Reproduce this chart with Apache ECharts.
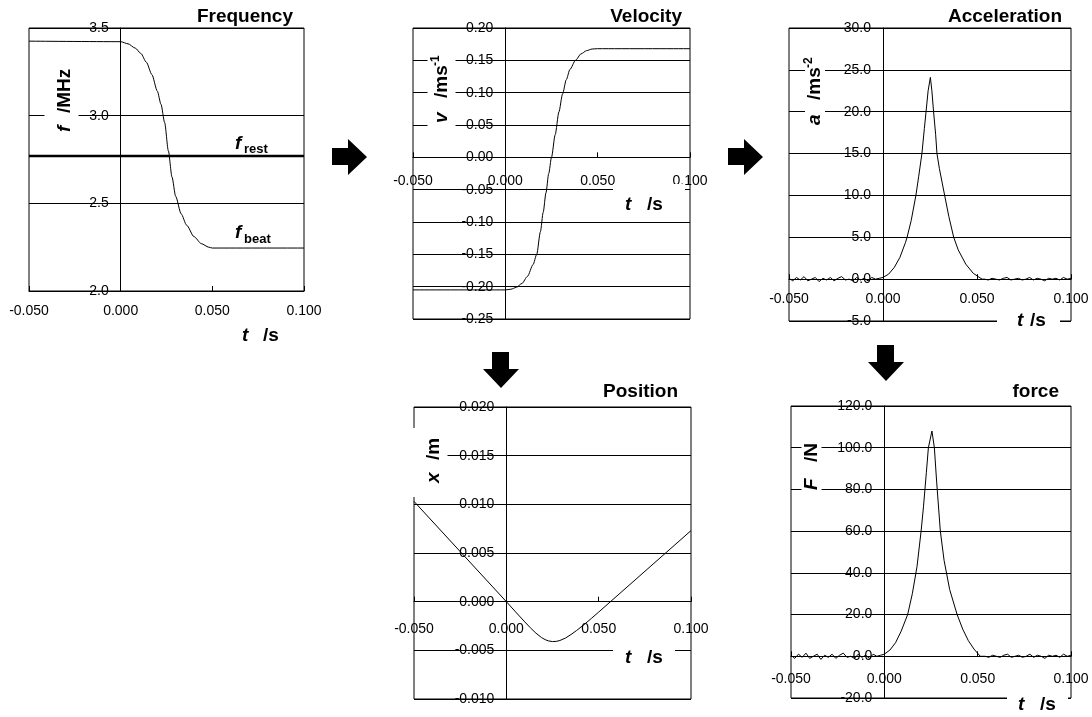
<!DOCTYPE html>
<html>
<head>
<meta charset="utf-8">
<script src="https://cdn.jsdelivr.net/npm/echarts@6/dist/echarts.min.js"></script>
<style>
  html, body { margin: 0; padding: 0; background: #fff; }
  #chart { width: 1092px; height: 717px; }
</style>
</head>
<body>
<div id="chart"></div>
<script>
// frequency vs time
var freqT = [-0.05, 0, 0.004, 0.008, 0.011, 0.014, 0.017, 0.020, 0.022, 0.024, 0.026, 0.028, 0.030, 0.033, 0.036, 0.040, 0.044, 0.048, 0.050, 0.100];
var freqF = [3.425, 3.422, 3.41, 3.385, 3.355, 3.305, 3.235, 3.14, 3.065, 2.96, 2.80, 2.65, 2.54, 2.44, 2.375, 2.31, 2.27, 2.25, 2.245, 2.245];
var restT = [-0.05, 0.1];
var restF = [2.77, 2.77];

// velocity
var velT = [-0.05, 0, 0.003, 0.006, 0.009, 0.012, 0.015, 0.017, 0.019, 0.0205, 0.022, 0.0235, 0.025, 0.027, 0.029, 0.031, 0.033, 0.035, 0.038, 0.041, 0.044, 0.047, 0.050, 0.100];
var velV = [-0.205, -0.205, -0.204, -0.201, -0.195, -0.184, -0.166, -0.150, -0.115, -0.085, -0.055, -0.025, 0.0, 0.035, 0.070, 0.098, 0.120, 0.136, 0.150, 0.160, 0.165, 0.1675, 0.168, 0.168];

// acceleration (noisy baseline before and after the pulse)
var quietBeforeT = [-0.050, -0.048, -0.046, -0.044, -0.042, -0.040, -0.038, -0.036, -0.034, -0.032, -0.030, -0.028, -0.026, -0.024, -0.022, -0.020, -0.018, -0.016, -0.014, -0.012, -0.010, -0.008, -0.006, -0.004, -0.002];
var quietAfterT = [0.054, 0.056, 0.058, 0.060, 0.062, 0.064, 0.066, 0.068, 0.070, 0.072, 0.074, 0.076, 0.078, 0.080, 0.082, 0.084, 0.086, 0.088, 0.090, 0.092, 0.094, 0.096, 0.098, 0.100];
var accBefore = [0.1, -0.2, 0.2, -0.1, 0.3, -0.2, 0.0, 0.2, -0.3, 0.1, -0.1, 0.2, -0.2, 0.1, 0.3, -0.1, 0.0, -0.2, 0.2, -0.1, 0.1, -0.2, 0.2, 0.0, 0.1];
var accPulseT = [0, 0.003, 0.006, 0.009, 0.012, 0.0128, 0.015, 0.0175, 0.019, 0.0207, 0.022, 0.0229, 0.024, 0.0252, 0.026, 0.0269, 0.028, 0.0287, 0.030, 0.0328, 0.035, 0.0376, 0.040, 0.044, 0.048, 0.0527];
var accPulse = [0.2, 0.6, 1.4, 2.6, 4.4, 5.0, 7.0, 10.0, 12.3, 15.0, 18.0, 20.0, 22.5, 24.1, 22.5, 20.0, 17.3, 15.0, 13.2, 10.0, 7.5, 5.0, 3.5, 1.8, 0.7, 0.0];
var accAfter = [0.0, -0.1, 0.1, 0.0, -0.1, 0.1, 0.2, -0.1, 0.0, 0.1, -0.1, 0.0, 0.2, -0.1, 0.1, 0.0, -0.2, 0.1, 0.0, 0.1, -0.1, 0.2, 0.0, 0.1];

// position
var posT = [-0.05, 0, 0.005, 0.010, 0.013, 0.016, 0.019, 0.021, 0.023, 0.025, 0.027, 0.029, 0.032, 0.035, 0.038, 0.042, 0.046, 0.050, 0.100];
var posX = [0.0103, 0, -0.00105, -0.00208, -0.00268, -0.00323, -0.00368, -0.00390, -0.00404, -0.00410, -0.00408, -0.00399, -0.00374, -0.00338, -0.00297, -0.00237, -0.00173, -0.00107, 0.0073];

// force
var forceBefore = [0.5, -1.0, 1.0, -0.5, 1.5, -1.0, 0.0, 1.0, -1.5, 0.5, -0.5, 1.0, -1.0, 0.5, 1.5, -0.5, 0.0, -1.0, 1.0, -0.5, 0.5, -1.0, 1.0, 0.0, 0.5];
var forcePulseT = [0, 0.003, 0.006, 0.009, 0.0125, 0.015, 0.0175, 0.0197, 0.021, 0.0225, 0.0236, 0.0255, 0.0268, 0.028, 0.030, 0.032, 0.035, 0.039, 0.042, 0.045, 0.048, 0.0514];
var forcePulse = [1, 3, 6.5, 12, 20, 30, 43, 60, 72, 88, 100, 108, 100, 84, 60, 46, 32, 20, 13, 7.5, 3.5, 0];
var forceAfter = [0.0, -0.5, 0.5, 0.0, -0.5, 0.5, 1.0, -0.5, 0.0, 0.5, -0.5, 0.0, 1.0, -0.5, 0.5, 0.0, -1.0, 0.5, 0.0, 0.5, -0.5, 1.0, 0.0, 0.5];

var FONT = 'Liberation Sans, Arial, sans-serif';
var T_MIN = -0.05, T_MAX = 0.1;
var chart = echarts.init(document.getElementById('chart'));

function pairs(xs, ys) {
    return xs.map(function (x, i) { return [x, ys[i]]; });
}

// one entry per small plot: grid box, y range and label settings
var panels = [
    { left: 29, top: 28, width: 275, height: 263, min: 2, max: 3.5, step: 0.5, dec: 1, xGap: 13 },
    { left: 413, top: 28, width: 277, height: 291, min: -0.25, max: 0.2, step: 0.05, dec: 2, xGap: 17 },
    { left: 789, top: 28, width: 282, height: 293, min: -5, max: 30, step: 5, dec: 1, xGap: 13 },
    { left: 414, top: 407, width: 277, height: 292, min: -0.01, max: 0.02, step: 0.005, dec: 3, xGap: 20 },
    { left: 791, top: 406, width: 280, height: 292, min: -20, max: 120, step: 20, dec: 1, xGap: 16 }
];

var grids = panels.map(function (p) {
    return { left: p.left, top: p.top, width: p.width, height: p.height, show: true,
        borderColor: '#000', borderWidth: 1, backgroundColor: '#fff' };
});

// axes cross at zero (Excel style): shift whole axis (line + labels) inward
var xAxes = panels.map(function (p, i) {
    var off = (p.min < 0 && p.max > 0) ? -p.height * (0 - p.min) / (p.max - p.min) : 0;
    return {
        gridIndex: i, type: 'value', min: T_MIN, max: T_MAX, interval: 0.05,
        position: 'bottom', offset: off,
        axisLine: { onZero: false, lineStyle: { color: '#000', width: 1 } },
        axisTick: { show: true, inside: true, length: 5, lineStyle: { color: '#000' } },
        axisLabel: { margin: p.xGap, color: '#000', fontSize: 14, fontFamily: FONT,
            showMinLabel: true, showMaxLabel: true,
            formatter: function (v) { return v.toFixed(3); } },
        splitLine: { show: false }
    };
});

var yAxes = panels.map(function (p, i) {
    return {
        gridIndex: i, type: 'value', min: p.min, max: p.max, interval: p.step,
        position: 'left', offset: -p.width * (0 - T_MIN) / (T_MAX - T_MIN),
        axisLine: { onZero: false, lineStyle: { color: '#000', width: 1 } },
        axisTick: { show: false },
        axisLabel: { margin: 12, color: '#000', fontSize: 14, fontFamily: FONT,
            showMinLabel: true, showMaxLabel: true,
            formatter: function (v) { return v.toFixed(p.dec); } },
        splitLine: { show: true, lineStyle: { color: '#000', width: 1 } }
    };
});

function line(idx, data, width, smooth) {
    return {
        type: 'line', xAxisIndex: idx, yAxisIndex: idx, data: data,
        symbol: 'none', smooth: smooth, smoothMonotone: 'x',
        lineStyle: { color: '#000', width: width }, z: 5
    };
}

var series = [
    line(0, pairs(freqT, freqF), 1, 0.25),
    line(0, pairs(restT, restF), 2.5, false),
    line(1, pairs(velT, velV), 1, 0.25),
    line(2, pairs(quietBeforeT.concat(accPulseT, quietAfterT), accBefore.concat(accPulse, accAfter)), 1, false),
    line(3, pairs(posT, posX), 1, false),
    line(4, pairs(quietBeforeT.concat(forcePulseT, quietAfterT), forceBefore.concat(forcePulse, forceAfter)), 1, false)
];

// text helpers
function txt(x, y, s, size, italic, align) {
    return { type: 'text', x: x, y: y, z: 101,
        style: { text: s, fontSize: size, fontWeight: 'bold', fontStyle: italic ? 'italic' : 'normal',
            fontFamily: FONT, fill: '#000', align: align || 'left', verticalAlign: 'middle' } };
}
function box(x, y, w, h) {
    return { type: 'rect', z: 100, shape: { x: x, y: y, width: w, height: h }, style: { fill: '#fff' } };
}
// rotated axis title: variable (italic) then unit, reading bottom to top
function yName(x, y, v, unit, unitOff, sup, bg) {
    var kids = [];
    if (bg) kids.push(box(bg[0], bg[1], bg[2], bg[3]));
    kids.push(txt(0, 0, v, 19, true));
    kids.push(txt(unitOff, 0, unit, 19, false));
    if (sup) kids.push(txt(sup[0], -6, sup[1], 12, false));
    return { type: 'group', x: x, y: y, rotation: Math.PI / 2, z: 100, children: kids };
}
function tName(tx, sx, y, bg) {
    var els = [];
    if (bg) els.push(box(bg[0], bg[1], bg[2], bg[3]));
    els.push(txt(tx, y, 't', 19, true));
    els.push(txt(sx, y, '/s', 19, false));
    return els;
}
function arrow(pts) {
    return { type: 'polygon', z: 100, shape: { points: pts }, style: { fill: '#000' } };
}

var graphics = [
    txt(293, 17, 'Frequency', 19, false, 'right'),
    txt(682, 17, 'Velocity', 19, false, 'right'),
    txt(1062, 17, 'Acceleration', 19, false, 'right'),
    txt(678, 392, 'Position', 19, false, 'right'),
    txt(1059, 392, 'force', 19, false, 'right'),

    yName(64.5, 132, 'f', '/MHz', 19, null, [-6, -20, 80, 34]),
    yName(441.5, 123, 'v', '/ms', 25, [57, '-1'], [-5, -14, 80, 28]),
    yName(815, 125, 'a', '/ms', 25, [57, '-2'], [-2, -10, 72, 20]),
    yName(433.5, 483, 'x', '/m', 23, null, [-14, -23, 69, 37]),
    yName(811.5, 490, 'F', '/N', 28, null, [-2, -10, 46, 20]),

    txt(235, 144, 'f', 19, true),
    txt(244, 149, 'rest', 13, false),
    txt(235, 233, 'f', 19, true),
    txt(244, 239, 'beat', 13, false),

    arrow([[332, 148], [348, 148], [348, 139], [367, 157], [348, 175], [348, 165], [332, 165]]),
    arrow([[728, 148], [744, 148], [744, 139], [763, 157], [744, 175], [744, 165], [728, 165]]),
    arrow([[492, 352], [509, 352], [509, 369], [519, 369], [501, 388], [483, 369], [492, 369]]),
    arrow([[877, 345], [894, 345], [894, 362], [904, 362], [886, 381], [868, 362], [877, 362]])
];
graphics = graphics
    .concat(tName(242, 263, 336, null))
    .concat(tName(625, 647, 205, [613, 184, 72, 36]))
    .concat(tName(1017, 1030, 321, [997, 311, 63, 22]))
    .concat(tName(625, 647, 658, [613, 644, 62, 28]))
    .concat(tName(1018, 1040, 705, [1007, 694, 61, 22]));

var option = {
    animation: false,
    backgroundColor: '#fff',
    grid: grids,
    xAxis: xAxes,
    yAxis: yAxes,
    series: series,
    graphic: graphics
};
chart.setOption(option);
</script>
</body>
</html>
